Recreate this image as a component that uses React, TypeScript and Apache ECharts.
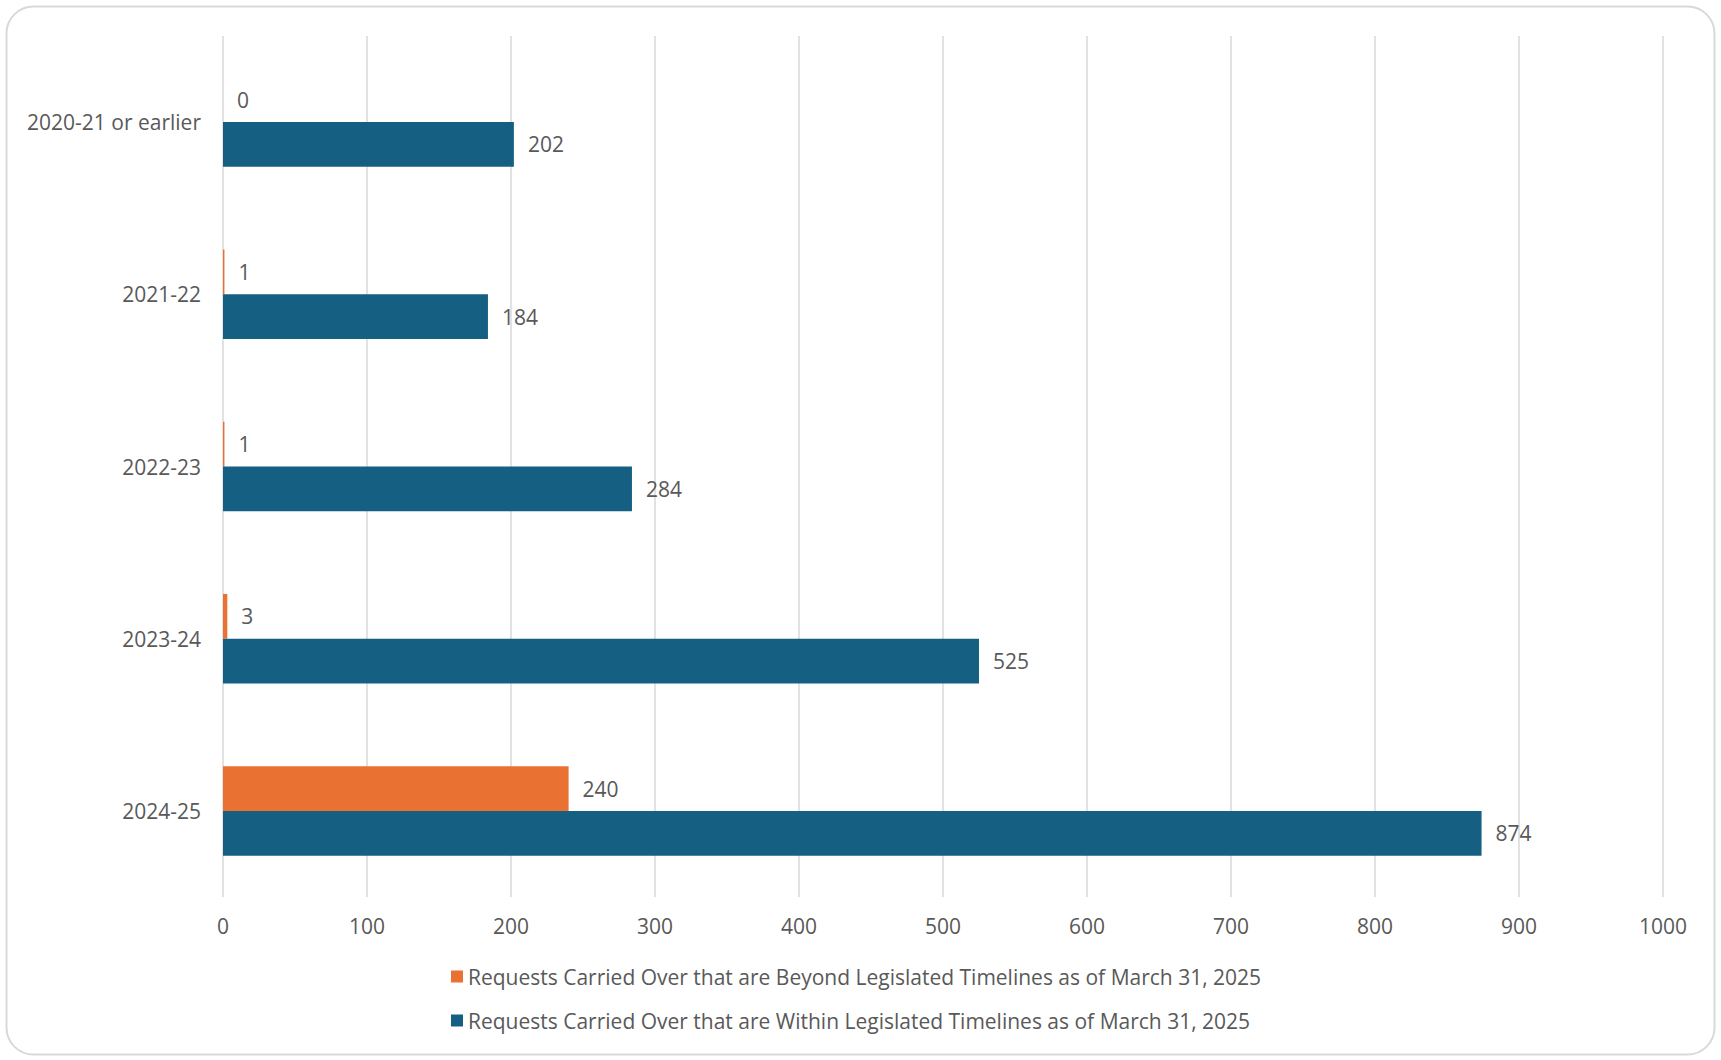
import React, { useEffect, useRef } from "react";
import * as echarts from "echarts";

const categories = ["2020-21 or earlier", "2021-22", "2022-23", "2023-24", "2024-25"];
const beyondValues = [0, 1, 1, 3, 240];
const withinValues = [202, 184, 284, 525, 874];
const seriesNames = [
  "Requests Carried Over that are Beyond Legislated Timelines as of March 31, 2025",
  "Requests Carried Over that are Within Legislated Timelines as of March 31, 2025",
];
const xMin = 0;
const xMax = 1000;
const xInterval = 100;

const FONT = "'Open Sans', 'Noto Sans', sans-serif";
const TEXT = "#595959";
const FS = 21;

export default function App() {
  const ref = useRef<HTMLDivElement>(null);
  useEffect(() => {
    if (!ref.current) return;
    const chart = echarts.init(ref.current, undefined, { renderer: "svg" });
    const label = {
      show: true,
      position: "right",
      distance: 14,
      color: TEXT,
      fontSize: FS,
      fontFamily: FONT,
    };
    chart.setOption({
      animation: false,
      backgroundColor: "#ffffff",
      textStyle: { fontFamily: FONT },
      graphic: [
        {
          type: "rect",
          z: -10,
          silent: true,
          shape: { x: 6.5, y: 6.5, width: 1708, height: 1048, r: 27 },
          style: { fill: "#ffffff", stroke: "#D9D9D9", lineWidth: 2 },
        },
      ],
      grid: { left: 223, right: 58, top: 36, bottom: 163, containLabel: false },
      legend: {
        orient: "vertical",
        left: 446,
        top: 961,
        itemWidth: 12,
        itemHeight: 12,
        itemGap: 23,
        icon: "rect",
        textStyle: { color: TEXT, fontSize: FS, fontFamily: FONT, padding: [0, 0, 0, 0] },
        data: seriesNames,
      },
      xAxis: {
        type: "value",
        min: xMin,
        max: xMax,
        interval: xInterval,
        axisLine: { show: false },
        axisTick: { show: false },
        splitLine: { show: true, lineStyle: { color: "#D9D9D9", width: 1.5 } },
        axisLabel: {
          color: TEXT,
          fontSize: FS,
          fontFamily: FONT,
          margin: 18,
          formatter: (v: number) => String(v),
        },
      },
      yAxis: {
        type: "category",
        inverse: true,
        data: categories,
        axisLine: { show: false },
        axisTick: { show: false },
        axisLabel: { color: TEXT, fontSize: FS, fontFamily: FONT, margin: 22 },
      },
      series: [
        {
          name: seriesNames[0],
          type: "bar",
          data: beyondValues,
          itemStyle: { color: "#E97132" },
          barGap: "0%",
          barCategoryGap: "48%",
          label,
        },
        {
          name: seriesNames[1],
          type: "bar",
          data: withinValues,
          itemStyle: { color: "#156082" },
          barGap: "0%",
          barCategoryGap: "48%",
          label,
        },
      ],
    });
    return () => chart.dispose();
  }, []);
  return (
    <div
      ref={ref}
      style={{ position: "fixed", left: 0, top: 0, width: 1721, height: 1060 }}
    />
  );
}
